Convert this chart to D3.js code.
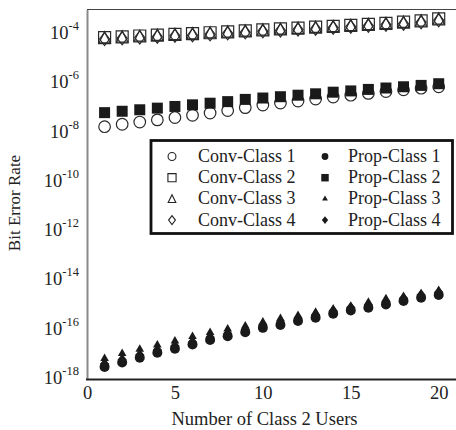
<!DOCTYPE html>
<html>
<head>
<meta charset="utf-8">
<script src="https://cdn.jsdelivr.net/npm/d3@7/dist/d3.min.js"></script>
<style>
  html, body { margin: 0; padding: 0; background: #fff; }
  svg { display: block; font-family: "Liberation Serif", "Times New Roman", serif; }
</style>
</head>
<body>
<svg id="chart" width="456" height="430"></svg>
<script>
// Number of Class 2 users (x)
const users = d3.range(1, 21);

// Bit error rates, one array per curve
const convClass1 = [1.75e-8, 2.2e-8, 2.7e-8, 3.3e-8, 4.1e-8, 5.1e-8, 6.3e-8, 7.9e-8, 1.04e-7, 1.33e-7,
                    1.6e-7, 1.93e-7, 2.32e-7, 2.8e-7, 3.32e-7, 3.92e-7, 4.65e-7, 5.5e-7, 6.4e-7, 7.3e-7];
const convClass2 = [7.2e-5, 7.8e-5, 8.4e-5, 9.1e-5, 9.8e-5, 1.05e-4, 1.14e-4, 1.24e-4, 1.36e-4, 1.5e-4,
                    1.62e-4, 1.76e-4, 1.91e-4, 2.08e-4, 2.28e-4, 2.51e-4, 2.75e-4, 3.05e-4, 3.48e-4, 4.2e-4];
const convClass3 = [7.2e-5, 7.8e-5, 8.4e-5, 9.1e-5, 9.8e-5, 1.05e-4, 1.14e-4, 1.24e-4, 1.36e-4, 1.5e-4,
                    1.62e-4, 1.76e-4, 1.91e-4, 2.08e-4, 2.28e-4, 2.51e-4, 2.75e-4, 3.05e-4, 3.48e-4, 4.2e-4];
const convClass4 = [6.3e-5, 6.8e-5, 7.3e-5, 7.9e-5, 8.5e-5, 9.1e-5, 9.9e-5, 1.08e-4, 1.18e-4, 1.3e-4,
                    1.41e-4, 1.53e-4, 1.66e-4, 1.81e-4, 1.98e-4, 2.18e-4, 2.39e-4, 2.65e-4, 3.03e-4, 3.65e-4];
const propClass1 = [3.1e-18, 4.7e-18, 7.3e-18, 1.16e-17, 1.7e-17, 2.5e-17, 3.8e-17, 5.4e-17, 7.9e-17, 1.19e-16,
                    1.55e-16, 2.25e-16, 3.1e-16, 4.5e-16, 6.1e-16, 7.8e-16, 1.07e-15, 1.46e-15, 2.0e-15, 2.56e-15];
const propClass2 = [6.5e-8, 7.4e-8, 8.5e-8, 9.9e-8, 1.16e-7, 1.35e-7, 1.57e-7, 1.82e-7, 2.24e-7, 2.55e-7,
                    2.88e-7, 3.32e-7, 3.78e-7, 4.4e-7, 4.95e-7, 5.7e-7, 6.5e-7, 7.3e-7, 8.3e-7, 9.7e-7];
const propClass3 = [6.8e-18, 1.08e-17, 1.6e-17, 2.4e-17, 3.5e-17, 5.3e-17, 7.7e-17, 1.07e-16, 1.41e-16, 2.05e-16,
                    2.84e-16, 3.77e-16, 5.1e-16, 7.0e-16, 9.0e-16, 1.31e-15, 1.79e-15, 2.23e-15, 2.86e-15, 3.9e-15];
const propClass4 = [4.1e-18, 6.1e-18, 9.5e-18, 1.5e-17, 2.2e-17, 3.2e-17, 5.0e-17, 7.0e-17, 1.03e-16, 1.55e-16,
                    2.0e-16, 2.9e-16, 4.0e-16, 5.8e-16, 8.0e-16, 1.02e-15, 1.39e-15, 1.9e-15, 2.6e-15, 3.3e-15];

const xTicks = [0, 5, 10, 15, 20];
const yTicks = [1e-4, 1e-6, 1e-8, 1e-10, 1e-12, 1e-14, 1e-16, 1e-18];

const series = [
  { name: 'Conv-Class 1', values: convClass1, shape: 'circle',   filled: false },
  { name: 'Conv-Class 2', values: convClass2, shape: 'square',   filled: false },
  { name: 'Conv-Class 3', values: convClass3, shape: 'triangle', filled: false },
  { name: 'Conv-Class 4', values: convClass4, shape: 'diamond',  filled: false },
  { name: 'Prop-Class 1', values: propClass1, shape: 'circle',   filled: true },
  { name: 'Prop-Class 2', values: propClass2, shape: 'square',   filled: true },
  { name: 'Prop-Class 3', values: propClass3, shape: 'triangle', filled: true },
  { name: 'Prop-Class 4', values: propClass4, shape: 'diamond',  filled: true }
];

const W = 456;
const svg = d3.select('#chart');

const x = d3.scaleLinear().domain([0, 20]).range([87, 438.7]);
const y = d3.scaleLog().domain([1e-18, 1e-3]).range([379, 9.5]);

// marker paths, s = overall scale (1 for plot, smaller for legend)
function markerPath(shape, filled, s) {
  const p = d3.path();
  if (shape === 'circle') {
    const r = (filled ? 5 : 5.8) * s;
    p.arc(0, 0, r, 0, 2 * Math.PI);
  } else if (shape === 'square') {
    const h = (filled ? 5.5 : 6) * s;
    p.rect(-h, -h, 2 * h, 2 * h);
  } else if (shape === 'triangle') {
    // open one sits inside the square, filled one is centred on its centroid
    const hw = (filled ? 4.3 : 5.6) * s;
    const top = (filled ? -5 : -6) * s, base = (filled ? 2.5 : 5.2) * s;
    p.moveTo(0, top); p.lineTo(hw, base); p.lineTo(-hw, base); p.closePath();
  } else {
    const hw = (filled ? 4.6 : 5) * s, hh = (filled ? 5.6 : 6.5) * s;
    p.moveTo(0, -hh); p.lineTo(hw, 0); p.lineTo(0, hh); p.lineTo(-hw, 0); p.closePath();
  }
  return p.toString();
}

// frame lines
svg.append('line').attr('x1', 87).attr('x2', W).attr('y1', 9.5).attr('y2', 9.5)
  .attr('stroke', '#444').attr('stroke-width', 1.2);

// y axis (no tick marks, gray spine)
const yAxis = svg.append('g').attr('transform', 'translate(87,0)')
  .call(d3.axisLeft(y).tickValues(yTicks).tickSize(0).tickFormat(''));
yAxis.select('.domain').attr('stroke', '#8a8a8a').attr('stroke-width', 2);

const yLab = svg.append('g').selectAll('text').data(yTicks).join('text')
  .attr('x', 79).attr('y', d => y(d) + 5)
  .attr('text-anchor', 'end').attr('font-size', 18.5).attr('fill', '#222');
yLab.append('tspan').text('10');
yLab.append('tspan').attr('dy', -9).attr('font-size', 12.5).text(d => '-' + Math.round(-Math.log10(d)));

// x axis
const xAxis = svg.append('g').attr('transform', 'translate(0,379)')
  .call(d3.axisBottom(x).tickValues(xTicks).tickSize(0).tickPadding(7));
xAxis.select('.domain').remove();
xAxis.selectAll('text').attr('font-size', 18.5).attr('fill', '#222')
  .attr('font-family', '"Liberation Serif", serif');
svg.append('line').attr('x1', 86).attr('x2', W).attr('y1', 379.5).attr('y2', 379.5)
  .attr('stroke', '#222').attr('stroke-width', 1.8);

// titles
svg.append('text').attr('x', 264.5).attr('y', 425).attr('text-anchor', 'middle')
  .attr('font-size', 18.5).attr('fill', '#222').text('Number of Class 2 Users');
svg.append('text').attr('transform', 'translate(20,203) rotate(-90)').attr('text-anchor', 'middle')
  .attr('font-size', 17).attr('fill', '#222').text('Bit Error Rate');

// markers
const plot = svg.append('g');
series.forEach(s => {
  plot.append('g').selectAll('path').data(s.values).join('path')
    .attr('transform', (d, i) => `translate(${x(users[i])},${y(d)})`)
    .attr('d', markerPath(s.shape, s.filled, 1))
    .attr('fill', s.filled ? '#1a1a1a' : 'none')
    .attr('stroke', s.filled ? 'none' : '#2a2a2a')
    .attr('stroke-width', 1.2);
});

// legend
const lg = svg.append('g');
lg.append('rect').attr('x', 151).attr('y', 140.5).attr('width', 301.5).attr('height', 93)
  .attr('fill', '#fff').attr('stroke', '#111').attr('stroke-width', 2.8);
series.forEach((s, i) => {
  const col = i < 4 ? 0 : 1, row = i % 4;
  const sx = col === 0 ? 172 : 325, tx = col === 0 ? 198 : 348;
  const ry = 156.5 + row * 21.2;
  lg.append('path').attr('transform', `translate(${sx},${ry})`)
    .attr('d', markerPath(s.shape, s.filled, 0.68))
    .attr('fill', s.filled ? '#1a1a1a' : 'none')
    .attr('stroke', s.filled ? 'none' : '#222').attr('stroke-width', 1.1);
  lg.append('text').attr('x', tx).attr('y', ry + 5.5).attr('font-size', 18)
    .attr('fill', '#222').text(s.name);
});
</script>
</body>
</html>
